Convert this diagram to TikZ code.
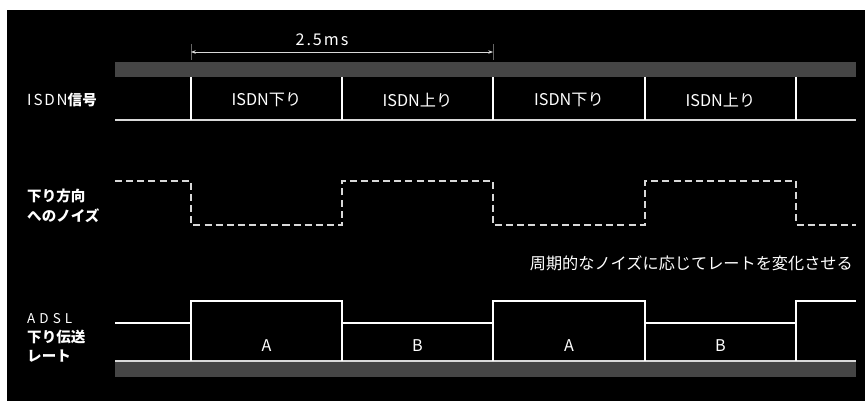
\documentclass[tikz,border=0pt]{standalone}
\usepackage{fontspec}
\setmainfont{Noto Sans CJK JP}
\newfontfamily\widefont[LetterSpace=30]{Noto Sans CJK JP}
\newfontfamily\midfont[LetterSpace=12]{Noto Sans CJK JP}
\usetikzlibrary{
    positioning,
    arrows.meta
}
\tikzset{
    >={Stealth[length=4pt,width=3pt]},
    txt/.style={
        text=white,
        inner sep=0pt,
        font=\fontsize{13.8}{16}\selectfont
    },
    side/.style={
        txt,
        anchor=west,
        align=left,
        font=\fontsize{12.4}{16.5}\selectfont\bfseries
    },
    sig/.style={
        draw=white,
        line width=1.4pt
    },
    noise/.style={
        draw=white!85!black,
        line width=1.2pt,
        dash pattern=on 6pt off 3.5pt
    },
    bar/.style={
        fill=black!73
    }
}

\begin{document}
\begin{tikzpicture}[
    x=0.03cm,
    y=-0.03cm
]

    % Fondo
    \useasboundingbox (0,0) rectangle (865,401);
    \fill[white] (0,0) rectangle (865,401);
    \fill[black] (7,10) rectangle (865,401);

    % Barras
    \fill[bar] (115,62) rectangle (856,77);
    \fill[bar] (115,361) rectangle (856,377);

    % Cota
    \coordinate (c0) at (191,52);
    \coordinate (c1) at (493,52);
    \draw[black!60, line width=0.8pt] (191,44) -- (191,60) (493,44) -- (493,60);
    \draw[<->, white!85!black, line width=0.8pt] (c0) -- (c1);
    \node[txt] (per) at (322,40) {\midfont 2.5ms};

    % ISDN
    \node[side] (isdn) at (27,100) {{\midfont\mdseries\fontsize{13}{16}\selectfont ISDN}信号};
    \draw[white!85!black, line width=1.2pt] (115,120) -- (856,120);
    \foreach \x in {191,342,493,645,796}
        \draw[sig] (\x,77) -- (\x,120);
    \node[txt] (i1) at (266.5,100) {ISDN下り};
    \node[txt] (i2) at (417.5,100) {ISDN上り};
    \node[txt] (i3) at (569,100)   {ISDN下り};
    \node[txt] (i4) at (720.5,100) {ISDN上り};

    % Ruido
    \node[side] (ruido) at (27,206) {下り方向\\へのノイズ};
    \draw[noise] (115,181) -- (191,181) -- (191,225) -- (342,225)
        -- (342,181) -- (493,181) -- (493,225) -- (645,225)
        -- (645,181) -- (796,181) -- (796,225) -- (856,225);
    \node[txt, anchor=east] (nota) at (853,263) {周期的なノイズに応じてレートを変化させる};

    % ADSL
    \node[side] (adsl) at (27,338) {{\widefont\mdseries\fontsize{11.5}{16.5}\selectfont ADSL}\\下り伝送\\レート};
    \draw[white!85!black, line width=1.2pt] (115,361) -- (856,361);
    \draw[sig] (115,323) -- (191,323) -- (191,301) -- (342,301)
        -- (342,323) -- (493,323) -- (493,301) -- (645,301)
        -- (645,323) -- (796,323) -- (796,301) -- (856,301);
    \foreach \x/\y in {191/301,342/301,493/301,645/301,796/301}
        \draw[sig] (\x,361) -- (\x,\y);
    \node[txt] (r1) at (266.5,346) {A};
    \node[txt] (r2) at (417.5,346) {B};
    \node[txt] (r3) at (569,346)   {A};
    \node[txt] (r4) at (720.5,346) {B};

\end{tikzpicture}
\end{document}
